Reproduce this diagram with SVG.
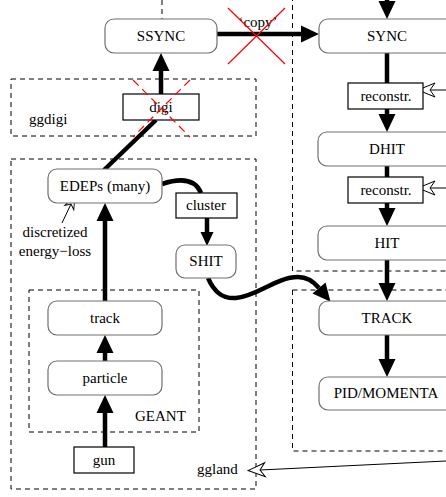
<svg xmlns="http://www.w3.org/2000/svg" width="446" height="497" viewBox="0 0 446 497">
<style>
text{font-family:"Liberation Serif","Times New Roman",serif;font-size:15px;fill:#000;text-anchor:middle}
.lbl{text-anchor:start}
.rb{fill:#fff;stroke:#707070;stroke-width:1.2}
.sb{fill:#fff;stroke:#000;stroke-width:1.2}
.dash{fill:none;stroke:#000;stroke-width:1;stroke-dasharray:5,4}
.thick{fill:none;stroke:#000;stroke-width:4.5}
.thin{fill:none;stroke:#000;stroke-width:1}
.red{stroke:#ff0000;stroke-width:1.2;fill:none}
.reddash{stroke:#ff0000;stroke-width:1.2;fill:none;stroke-dasharray:8,5}
</style>
<defs>
<marker id="arr" markerUnits="userSpaceOnUse" markerWidth="18" markerHeight="18" refX="0" refY="8.5" orient="auto" overflow="visible">
<path d="M0,0 L18,8.5 L0,17 z" fill="#000"/>
</marker>
<marker id="arrs" markerUnits="userSpaceOnUse" markerWidth="14" markerHeight="14" refX="0" refY="6.5" orient="auto" overflow="visible">
<path d="M0,0 L14,6.5 L0,13 z" fill="#000"/>
</marker>
<marker id="open" markerUnits="userSpaceOnUse" markerWidth="18" markerHeight="16" refX="5" refY="7" orient="auto" overflow="visible">
<path d="M17,7 L0,0 L5,7 L0,14 z" fill="#fff" stroke="#000" stroke-width="1"/>
</marker>
<marker id="opens" markerUnits="userSpaceOnUse" markerWidth="14" markerHeight="12" refX="4" refY="5" orient="auto" overflow="visible">
<path d="M13,5 L0,0 L4,5 L0,10 z" fill="#fff" stroke="#000" stroke-width="0.9"/>
</marker>
</defs>

<g id="containers">
<rect class="dash" x="11" y="79" width="245" height="57"/>
<rect class="dash" x="11" y="159" width="245" height="330"/>
<rect class="dash" x="29" y="290" width="170" height="142"/>
<rect class="dash" x="292.5" y="-10" width="170" height="281"/>
<rect class="dash" x="292.5" y="290" width="170" height="161"/>
<line class="dash" x1="162" y1="0" x2="162" y2="19"/>
<text class="lbl" x="29" y="124">ggdigi</text>
<text class="lbl" x="135" y="421">GEANT</text>
<text class="lbl" x="197" y="474">ggland</text>
</g>

<g id="connectors">
<line class="thick" x1="387" y1="-5" x2="387" y2="1" marker-end="url(#arr)"/>
<line class="thick" x1="217" y1="34" x2="301" y2="34" marker-end="url(#arr)"/>
<line class="thick" x1="387" y1="53" x2="387" y2="83"/>
<line class="thick" x1="387" y1="109" x2="387" y2="114" marker-end="url(#arr)"/>
<line class="thick" x1="387" y1="166" x2="387" y2="177"/>
<line class="thick" x1="387" y1="203" x2="387" y2="208" marker-end="url(#arr)"/>
<line class="thick" x1="387" y1="260" x2="387" y2="283" marker-end="url(#arr)"/>
<line class="thick" x1="387" y1="335" x2="387" y2="359" marker-end="url(#arr)"/>
<line class="thick" x1="161" y1="94" x2="161" y2="71" marker-end="url(#arr)"/>
<line class="thick" x1="104" y1="170" x2="156" y2="120"/>
<line class="thick" x1="105" y1="301" x2="105" y2="221" marker-end="url(#arr)"/>
<line class="thick" x1="105" y1="361" x2="105" y2="353" marker-end="url(#arr)"/>
<line class="thick" x1="105" y1="447" x2="105" y2="413" marker-end="url(#arr)"/>
<line class="thick" x1="207" y1="218" x2="207" y2="232" marker-end="url(#arrs)"/>
<path class="thick" d="M162,184 C174,180 194,176 201,193"/>
<path class="thick" d="M208,278 C215,294 224,299 236,298 C258,296 276,277 298,277 C308,277 314,282 319,288" marker-end="url(#arr)"/>
<line class="thin" x1="446" y1="90" x2="430" y2="90" marker-end="url(#open)"/>
<line class="thin" x1="446" y1="188" x2="430" y2="188" marker-end="url(#open)"/>
<line class="thin" x1="446" y1="461" x2="260" y2="470" marker-end="url(#open)"/>
<line class="thin" x1="62" y1="223" x2="71" y2="204" marker-end="url(#opens)"/>
<text x="258" y="27">‘copy’</text>
<line class="red" x1="228" y1="8" x2="285" y2="64"/>
<line class="red" x1="285" y1="8" x2="228" y2="64"/>
<text x="55" y="237">discretized</text>
<text x="55" y="256">energy−loss</text>
</g>

<g id="SSYNC"><rect class="rb" x="105" y="19" width="112" height="34" rx="9"/><text x="161" y="41">SSYNC</text></g>
<g id="SYNC"><rect class="rb" x="319" y="19" width="145" height="34" rx="9"/><text x="387" y="41">SYNC</text></g>
<g id="reconstr1"><rect class="sb" x="348" y="83" width="75" height="26"/><text x="386" y="101">reconstr.</text></g>
<g id="DHIT"><rect class="rb" x="318" y="132" width="145" height="34" rx="9"/><text x="387" y="154">DHIT</text></g>
<g id="reconstr2"><rect class="sb" x="348" y="177" width="75" height="26"/><text x="386" y="195">reconstr.</text></g>
<g id="HIT"><rect class="rb" x="318" y="226" width="145" height="34" rx="9"/><text x="387" y="248">HIT</text></g>
<g id="TRACK"><rect class="rb" x="319" y="301" width="145" height="34" rx="9"/><text x="387" y="323">TRACK</text></g>
<g id="PID"><rect class="rb" x="319" y="377" width="145" height="33" rx="9"/><text x="386" y="398">PID/MOMENTA</text></g>
<g id="digi"><rect class="sb" x="123" y="94" width="76" height="26"/><text x="161" y="112">digi</text>
<line class="reddash" x1="133" y1="80" x2="190" y2="137"/><line class="reddash" x1="190" y1="80" x2="133" y2="137"/></g>
<g id="EDEPs"><rect class="rb" x="48" y="169" width="114" height="34" rx="9"/><text x="105" y="191">EDEPs (many)</text></g>
<g id="cluster"><rect class="sb" x="176" y="193" width="61" height="25"/><text x="206" y="210">cluster</text></g>
<g id="SHIT"><rect class="rb" x="176" y="245" width="60" height="33" rx="9"/><text x="206" y="266">SHIT</text></g>
<g id="track"><rect class="rb" x="48" y="301" width="114" height="34" rx="9"/><text x="105" y="323">track</text></g>
<g id="particle"><rect class="rb" x="48" y="361" width="114" height="34" rx="9"/><text x="105" y="383">particle</text></g>
<g id="gun"><rect class="sb" x="74" y="447" width="60" height="26"/><text x="104" y="465">gun</text></g>
</svg>
